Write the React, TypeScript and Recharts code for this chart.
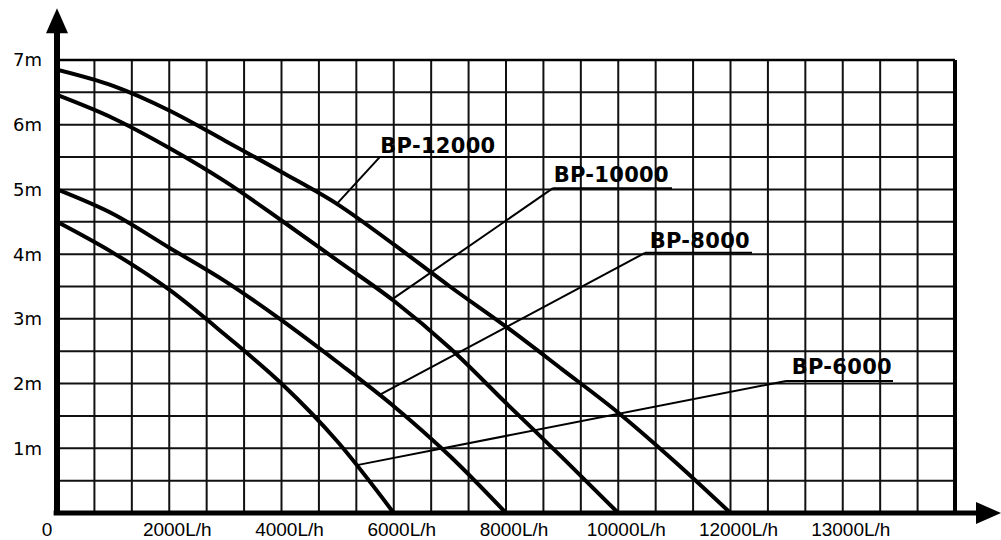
import { LineChart, Line, XAxis, YAxis, CartesianGrid, ReferenceLine, ReferenceDot } from 'recharts';

// pump curves: flow (L/h) vs head (m)
const flow6000 = [0, 1000, 2000, 3000, 4000, 5000, 6000];
const head6000 = [4.5, 4.02, 3.45, 2.75, 2.0, 1.1, 0];

const flow8000 = [0, 1000, 2000, 3000, 4000, 5000, 6000, 7000, 8000];
const head8000 = [5.0, 4.62, 4.1, 3.58, 2.98, 2.33, 1.65, 0.88, 0];

const flow10000 = [0, 1000, 2000, 3000, 4000, 5000, 6000, 7000, 8000, 9000, 10000];
const head10000 = [6.46, 6.1, 5.64, 5.12, 4.52, 3.9, 3.28, 2.55, 1.7, 0.86, 0];

const flow12000 = [0, 1000, 2000, 3000, 4000, 5000, 6000, 7000, 8000, 9000, 10000, 11000, 12000];
const head12000 = [6.85, 6.6, 6.22, 5.75, 5.27, 4.77, 4.15, 3.5, 2.88, 2.22, 1.55, 0.8, 0];

const xTicks = [0, 2000, 4000, 6000, 8000, 10000, 12000, 14000];
const xTickLabels = ['0', '2000L/h', '4000L/h', '6000L/h', '8000L/h', '10000L/h', '12000L/h', '13000L/h'];
const yTicks = [1, 2, 3, 4, 5, 6, 7];
const yTickLabels = ['1m', '2m', '3m', '4m', '5m', '6m', '7m'];

// grid: 24 columns x 14 rows
const X_MAX = 16000;
const gridFlows = Array.from({ length: 25 }, (_, i) => (i * X_MAX) / 24);
const gridHeads = Array.from({ length: 15 }, (_, i) => i * 0.5);

const toPoints = (flows: number[], heads: number[]) => flows.map((f, i) => ({ flow: f, head: heads[i] }));

const series = [
  { name: 'BP-6000', data: toPoints(flow6000, head6000) },
  { name: 'BP-8000', data: toPoints(flow8000, head8000) },
  { name: 'BP-10000', data: toPoints(flow10000, head10000) },
  { name: 'BP-12000', data: toPoints(flow12000, head12000) },
];

// callouts: point on curve -> elbow -> end of underline, text anchor
const callouts = [
  { text: 'BP-12000', from: [4990, 4.78], elbow: [5750, 5.5], end: [7890, 5.5], at: [5760, 5.57] },
  { text: 'BP-10000', from: [5969, 3.3], elbow: [8837, 5.02], end: [10958, 5.02], at: [8850, 5.11] },
  { text: 'BP-8000', from: [5755, 1.83], elbow: [10477, 4.02], end: [12383, 4.02], at: [10560, 4.1] },
  { text: 'BP-6000', from: [5345, 0.74], elbow: [12989, 2.04], end: [14895, 2.04], at: [13090, 2.15] },
];

const XTick = (props: any) => {
  const { x, y, payload } = props;
  const idx = xTicks.indexOf(payload.value);
  const dx = payload.value === 0 ? -10 : 8;
  return (
    <text x={x + dx} y={y + 23} textAnchor="middle" fontFamily="Liberation Sans" fontSize={19} fill="#000">
      {xTickLabels[idx]}
    </text>
  );
};

const YTick = (props: any) => {
  const { x, y, payload } = props;
  const idx = yTicks.indexOf(payload.value);
  return (
    <text x={x - 15} y={y} dy="0.36em" textAnchor="end" fontFamily="DejaVu Sans" fontSize={18} fill="#000">
      {yTickLabels[idx]}
    </text>
  );
};

const verticalGrid = (props: any) => {
  const { xAxis, offset } = props;
  if (xAxis && typeof xAxis.scale === 'function') return gridFlows.map((v) => xAxis.scale(v));
  return gridFlows.map((v) => offset.left + (v / X_MAX) * offset.width);
};

const arrowUp = (props: any) => (
  <polygon points={`${props.cx},${props.cy} ${props.cx - 11},${props.cy + 25} ${props.cx + 11},${props.cy + 25}`} fill="#000" />
);
const arrowRight = (props: any) => (
  <polygon points={`${props.cx},${props.cy} ${props.cx - 25},${props.cy - 11} ${props.cx - 25},${props.cy + 11}`} fill="#000" />
);
const labelShape = (text: string) => (props: any) => (
  <text x={props.cx} y={props.cy} fontFamily="DejaVu Sans" fontWeight="bold" fontSize={21} letterSpacing={0.3} fill="#000">
    {text}
  </text>
);

export default function App() {
  return (
    <div style={{ position: 'absolute', left: 0, top: 0, background: '#fff' }}>
      <LineChart width={1001} height={540} margin={{ top: 60, right: 46, bottom: 0, left: 0 }}>
        <CartesianGrid
          stroke="#111"
          strokeWidth={2}
          horizontalValues={gridHeads}
          verticalCoordinatesGenerator={verticalGrid}
        />
        <XAxis
          type="number"
          dataKey="flow"
          domain={[0, X_MAX]}
          ticks={xTicks}
          tick={<XTick />}
          tickLine={false}
          tickSize={0}
          tickMargin={0}
          axisLine={false}
          height={27}
          allowDataOverflow
        />
        <YAxis
          type="number"
          dataKey="head"
          domain={[0, 7]}
          ticks={yTicks}
          tick={<YTick />}
          tickLine={false}
          tickSize={0}
          tickMargin={0}
          axisLine={false}
          width={57}
          allowDataOverflow
        />
        <ReferenceLine x={X_MAX} stroke="#000" strokeWidth={4} />
        <ReferenceLine y={7} stroke="#000" strokeWidth={2.5} />
        {series.map((s) => (
          <Line
            key={s.name}
            data={s.data}
            dataKey="head"
            name={s.name}
            type="monotone"
            stroke="#000"
            strokeWidth={4}
            dot={false}
            activeDot={false}
            isAnimationActive={false}
          />
        ))}
        {callouts.map((c) => (
          <ReferenceLine
            key={c.text + '-ptr'}
            segment={[{ x: c.from[0], y: c.from[1] }, { x: c.elbow[0], y: c.elbow[1] }]}
            stroke="#000"
            strokeWidth={2}
            ifOverflow="visible"
          />
        ))}
        {callouts.map((c) => (
          <ReferenceLine
            key={c.text + '-ul'}
            segment={[{ x: c.elbow[0], y: c.elbow[1] }, { x: c.end[0], y: c.end[1] }]}
            stroke="#000"
            strokeWidth={2}
            ifOverflow="visible"
          />
        ))}
        {callouts.map((c) => (
          <ReferenceDot key={c.text} x={c.at[0]} y={c.at[1]} r={0} shape={labelShape(c.text)} ifOverflow="visible" />
        ))}
        <ReferenceLine segment={[{ x: 0, y: 0 }, { x: 0, y: 7.42 }]} stroke="#000" strokeWidth={6} ifOverflow="visible" />
        <ReferenceLine segment={[{ x: -60, y: 0 }, { x: 16420, y: 0 }]} stroke="#000" strokeWidth={5} ifOverflow="visible" />
        <ReferenceDot x={0} y={7.8} r={0} shape={arrowUp} ifOverflow="visible" />
        <ReferenceDot x={16820} y={0} r={0} shape={arrowRight} ifOverflow="visible" />
      </LineChart>
    </div>
  );
}
